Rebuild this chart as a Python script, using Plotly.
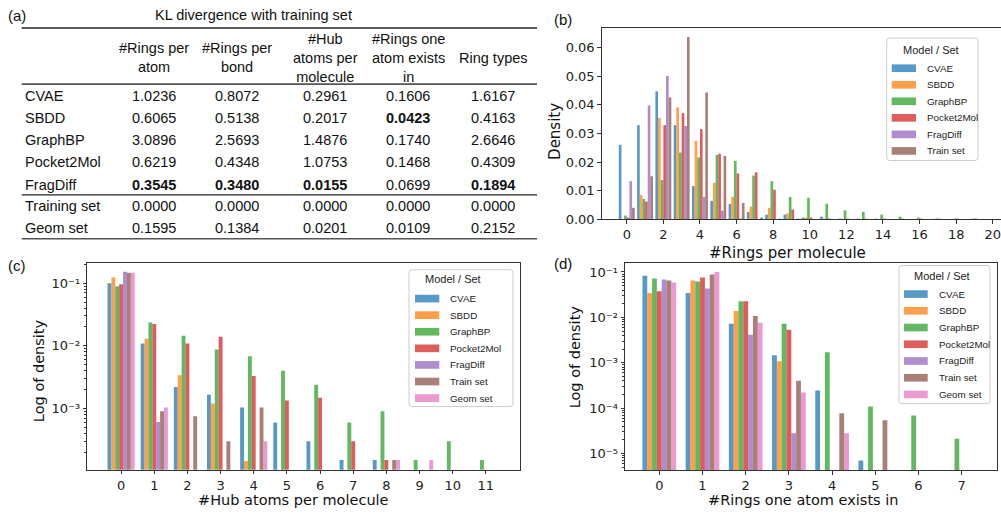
import plotly.graph_objects as go

W, H = 1001, 514


def X(p):
    return p / W


def Y(p):
    return 1 - p / H


# ---------------- data ----------------
series_names = ["CVAE", "SBDD", "GraphBP", "Pocket2Mol", "FragDiff", "Train set", "Geom set"]
series_colors = ["#1f77b4", "#ff7f0e", "#2ca02c", "#d62728", "#9467bd", "#8c564b", "#e377c2"]

# (a) KL divergence table
table_rows = ["CVAE", "SBDD", "GraphBP", "Pocket2Mol", "FragDiff", "Training set", "Geom set"]
table_headers = ["#Rings per<br>atom", "#Rings per<br>bond", "#Hub<br>atoms per<br>molecule",
                 "#Rings one<br>atom exists<br>in", "Ring types"]
kl_rings_per_atom = [1.0236, 0.6065, 3.0896, 0.6219, 0.3545, 0.0000, 0.1595]
kl_rings_per_bond = [0.8072, 0.5138, 2.5693, 0.4348, 0.3480, 0.0000, 0.1384]
kl_hub_atoms = [0.2961, 0.2017, 1.4876, 1.0753, 0.0155, 0.0000, 0.0201]
kl_rings_one_atom = [0.1606, 0.0423, 0.1740, 0.1468, 0.0699, 0.0000, 0.0109]
kl_ring_types = [1.6167, 0.4163, 2.6646, 0.4309, 0.1894, 0.0000, 0.2152]

# (b) #Rings per molecule (density), x = 0..20
x_b = list(range(21))
cvae_b = [0.026, 0.0329, 0.0447, 0.0329, 0.0116, 0.0064, 0.0053, 0.0025, 0.0016, 0.0016, 0.0006,
          0.0009, 0.0002, 0.0001, 0.0001, 0, 0, 0, 0, 0, 0]
sbdd_b = [0, 0.0085, 0.0354, 0.0391, 0.0274, 0.0127, 0.0078, 0.0044, 0.004, 0.002, 0.0006,
          0.0001, 0, 0, 0, 0, 0, 0, 0, 0, 0]
graphbp_b = [0.0013, 0.0071, 0.0137, 0.0233, 0.0216, 0.0225, 0.0204, 0.0153, 0.0133, 0.0078, 0.0075,
             0.0054, 0.0031, 0.0026, 0.0016, 0.0009, 0.0006, 0.0002, 0.0002, 0.0002, 0]
pocket2mol_b = [0.0006, 0.0062, 0.0329, 0.0371, 0.0315, 0.0229, 0.016, 0.0164, 0.0103, 0.0034, 0.0006,
                0.0002, 0.0002, 0.0001, 0.0001, 0.0001, 0.0001, 0.0001, 0.0001, 0.0001, 0]
fragdiff_b = [0.0133, 0.0398, 0.0501, 0.0326, 0.0078, 0.003, 0.0002, 0, 0, 0, 0,
              0, 0, 0, 0, 0, 0, 0, 0, 0, 0]
train_b = [0.004, 0.015, 0.0426, 0.0637, 0.0443, 0.0221, 0.0057, 0.0006, 0.0002, 0.0002, 0,
           0, 0, 0, 0, 0, 0, 0, 0, 0, 0]

# (c) #Hub atoms per molecule (log density), x = 0..11
x_c = list(range(12))
cvae_c = [0.100, 0.0109, 0.0022, 0.00166, 0.00104, 0.0006, 0.0003, 0.00015, 0.00015, 0, 0, 0]
sbdd_c = [0.123, 0.013, 0.0034, 0.0012, 0.000145, 0, 0, 0, 0, 0, 0, 0]
graphbp_c = [0.089, 0.0235, 0.0145, 0.0087, 0.0068, 0.0040, 0.0024, 0.0006, 0.0009, 0.00015, 0.0003, 0.00015]
pocket2mol_c = [0.096, 0.0224, 0.0109, 0.014, 0.0033, 0.00134, 0.00149, 0.0003, 0.00015, 0, 0, 0]
fragdiff_c = [0.152, 0.00061, 0, 0, 0, 0, 0, 0, 0, 0, 0, 0]
train_c = [0.147, 0.0009, 0.00075, 0.0003, 0.00104, 0, 0, 0, 0.00015, 0, 0, 0]
geom_c = [0.147, 0.00104, 0, 0, 0.0003, 0, 0, 0, 0.00015, 0.00015, 0, 0]

# (d) #Rings one atom exists in (log density), x = 0..7
x_d = list(range(8))
cvae_d = [0.083, 0.0344, 0.0072, 0.00146, 0.000245, 0.000007, 0, 0]
sbdd_d = [0.0344, 0.065, 0.0138, 0.00108, 0, 0, 0, 0]
graphbp_d = [0.0716, 0.062, 0.0227, 0.0072, 0.0017, 0.000108, 0.000069, 0.000021]
pocket2mol_d = [0.0374, 0.0754, 0.0227, 0.0053, 0, 0, 0, 0]
fragdiff_d = [0.068, 0.0435, 0.00416, 0.000028, 0, 0, 0, 0]
train_d = [0.065, 0.0875, 0.0107, 0.0004, 0.000077, 0.000054, 0, 0]
geom_d = [0.0587, 0.100, 0.0076, 0.00022, 0.000028, 0, 0, 0]

# ---------------- figure ----------------
fig = go.Figure()

TICKFONT = dict(family="DejaVu Sans", size=13, color="#222")
LEGFONT = "Liberation Sans"


def add_group(xs, ys_list, names, xa, ya, group_w, log=False):
    n = len(ys_list)
    w = group_w / n
    for i, (ys, nm) in enumerate(zip(ys_list, names)):
        vals = [(None if (log and v <= 0) else v) for v in ys]
        fig.add_trace(go.Bar(
            x=xs, y=vals, name=nm, width=w, offset=-group_w / 2 + i * w,
            marker=dict(color=series_colors[i], line=dict(width=0)), opacity=0.75,
            xaxis=xa, yaxis=ya, showlegend=False, hoverinfo="skip"))


add_group(x_b, [cvae_b, sbdd_b, graphbp_b, pocket2mol_b, fragdiff_b, train_b],
          series_names[:6], "x", "y", 0.87)
add_group(x_c, [cvae_c, sbdd_c, graphbp_c, pocket2mol_c, fragdiff_c, train_c, geom_c],
          series_names, "x2", "y2", 0.82, log=True)
add_group(x_d, [cvae_d, sbdd_d, graphbp_d, pocket2mol_d, fragdiff_d, train_d, geom_d],
          series_names, "x3", "y3", 0.78, log=True)

axis_common = dict(showline=True, linecolor="#333", linewidth=1, ticks="outside", ticklen=3.5,
                   tickwidth=0.8, tickcolor="#333", tickfont=TICKFONT, showgrid=False, zeroline=False)

SUP = str.maketrans("0123456789-", "\u2070\u00b9\u00b2\u00b3\u2074\u2075\u2076\u2077\u2078\u2079\u207b")


def log_ticks(lo, hi):
    vals = [10.0 ** e for e in range(lo, hi + 1)]
    txt = ["10" + str(e).translate(SUP) for e in range(lo, hi + 1)]
    minor = [m * 10.0 ** e for e in range(lo - 1, hi + 1) for m in range(2, 10)]
    return vals, txt, minor


lv_c, lt_c, mn_c = log_ticks(-3, -1)
lv_d, lt_d, mn_d = log_ticks(-5, -1)

fig.update_layout(
    width=W, height=H, margin=dict(l=0, r=0, t=0, b=0),
    paper_bgcolor="white", plot_bgcolor="white", barmode="overlay", showlegend=False,
    xaxis=dict(axis_common, domain=[X(601.7), 1.0], range=[-1.37, 20.45], anchor="y",
               tickmode="array", tickvals=list(range(0, 21, 2)), mirror=True,
               ticklabeloverflow="allow"),
    yaxis=dict(axis_common, domain=[Y(222.7), Y(28)], range=[0, 0.067], anchor="x",
               tickmode="array", tickvals=[0, 0.01, 0.02, 0.03, 0.04, 0.05, 0.06], tickformat=".2f"),
    xaxis2=dict(axis_common, domain=[X(87.3), X(520)], range=[-1.02, 12.03], anchor="y2",
                tickmode="array", tickvals=x_c, mirror=True),
    yaxis2=dict(axis_common, type="log", domain=[Y(477.3), Y(267.3)], range=[-3.98, -0.68],
                anchor="x2", tickmode="array", tickvals=lv_c, ticktext=lt_c, mirror=True,
                minor=dict(tickmode="array", tickvals=mn_c, ticks="outside", ticklen=2,
                           tickwidth=0.6, tickcolor="#333")),
    xaxis3=dict(axis_common, domain=[X(625), X(996.7)], range=[-0.794, 7.81], anchor="y3",
                tickmode="array", tickvals=x_d, mirror=True),
    yaxis3=dict(axis_common, type="log", domain=[Y(477.7), Y(267.3)], range=[-5.37, -0.805],
                anchor="x3", tickmode="array", tickvals=lv_d, ticktext=lt_d, mirror=True,
                minor=dict(tickmode="array", tickvals=mn_d, ticks="outside", ticklen=2,
                           tickwidth=0.6, tickcolor="#333")),
)

ann = []
shapes = []


def text(x, y, s, size, family="DejaVu Sans", xanchor="center", yanchor="middle", angle=0,
         color="#111", pad=1):
    ann.append(dict(x=X(x), y=Y(y), xref="paper", yref="paper", text=s, showarrow=False,
                    xanchor=xanchor, yanchor=yanchor, textangle=angle, borderpad=pad,
                    font=dict(family=family, size=size, color=color)))


# axis titles
text(555, 134, "Density", 15, angle=-90)
text(787, 257, "#Rings per molecule", 15)
text(39, 377, "Log of density", 14.5, angle=-90)
text(293, 508, "#Hub atoms per molecule", 14.5, pad=0)
text(575, 363, "Log of density", 14.5, angle=-90)
text(803, 508, "#Rings one atom exists in", 14.5, pad=0)

# panel labels
text(17, 15.5, "(a)", 15, family="Liberation Sans")
text(563, 20, "(b)", 15, family="Liberation Sans")
text(17, 270, "(c)", 15, family="Liberation Sans")
text(563, 268, "(d)", 15, family="Liberation Sans")

# ---------------- table (a) ----------------
TF = "Liberation Sans"
text(253, 15.5, "KL divergence with training set", 14.5, family=TF)
col_x = [154, 237, 325, 408, 493]
row_y = [97.5, 120, 142.5, 165, 187.5, 209.5, 232]
for cx, h in zip(col_x, table_headers):
    text(cx, 58.5, h, 14.5, family=TF)
columns = [kl_rings_per_atom, kl_rings_per_bond, kl_hub_atoms, kl_rings_one_atom, kl_ring_types]
n_models = 5
for ry, rn in zip(row_y, table_rows):
    text(23, ry, rn, 14.5, family=TF, xanchor="left")
for cx, col in zip(col_x, columns):
    best = min(col[:n_models])
    for r, (ry, v) in enumerate(zip(row_y, col)):
        s = "%.4f" % v
        if r < n_models and v == best:
            s = "<b>%s</b>" % s
        text(cx, ry, s, 14.5, family=TF)


def hline(y, x0, x1, color, w):
    shapes.append(dict(type="line", xref="paper", yref="paper", x0=X(x0), x1=X(x1), y0=Y(y), y1=Y(y),
                       line=dict(color=color, width=w)))


hline(28.5, 21.7, 537, "#222", 1.6)
hline(85.5, 21.7, 537, "#555", 1.6)
hline(198, 21.7, 537, "#222", 1.2)
hline(242.5, 21.7, 537, "#555", 1.6)

# ---------------- legends ----------------


def rrect(x0, y0, x1, y1, r):
    pts = (f"M {X(x0 + r)},{Y(y0)} L {X(x1 - r)},{Y(y0)} Q {X(x1)},{Y(y0)} {X(x1)},{Y(y0 + r)} "
           f"L {X(x1)},{Y(y1 - r)} Q {X(x1)},{Y(y1)} {X(x1 - r)},{Y(y1)} "
           f"L {X(x0 + r)},{Y(y1)} Q {X(x0)},{Y(y1)} {X(x0)},{Y(y1 - r)} "
           f"L {X(x0)},{Y(y0 + r)} Q {X(x0)},{Y(y0)} {X(x0 + r)},{Y(y0)} Z")
    return pts


def legend(bx0, bx1, by0, by1, title_x, title_y, px0, px1, tx, ey0, dy, names):
    shapes.append(dict(type="path", xref="paper", yref="paper", path=rrect(bx0, by0, bx1, by1, 3),
                       fillcolor="rgba(255,255,255,0.85)", line=dict(color="#cccccc", width=1)))
    text(title_x, title_y, "Model / Set", 11, family=LEGFONT, color="#222")
    for i, nm in enumerate(names):
        yy = ey0 + i * dy
        shapes.append(dict(type="rect", xref="paper", yref="paper", x0=X(px0), x1=X(px1),
                           y0=Y(yy + 3.9), y1=Y(yy - 3.9), fillcolor=series_colors[i], opacity=0.75,
                           line=dict(width=0)))
        text(tx, yy, nm, 9.8, family=LEGFONT, xanchor="left", color="#222")


legend(886.7, 978, 38.7, 163, 930.7, 51, 891.7, 916, 924.5, 69.3, 16.8, series_names[:6])
legend(409, 513, 274, 413, 452.7, 283.3, 415, 439.3, 448, 303.3, 16.85, series_names)
legend(899, 990, 269.7, 410, 941.7, 280, 904, 927.7, 936.5, 298.7, 17.0, series_names)

fig.update_layout(annotations=ann, shapes=shapes)
fig.write_html("out.html")
